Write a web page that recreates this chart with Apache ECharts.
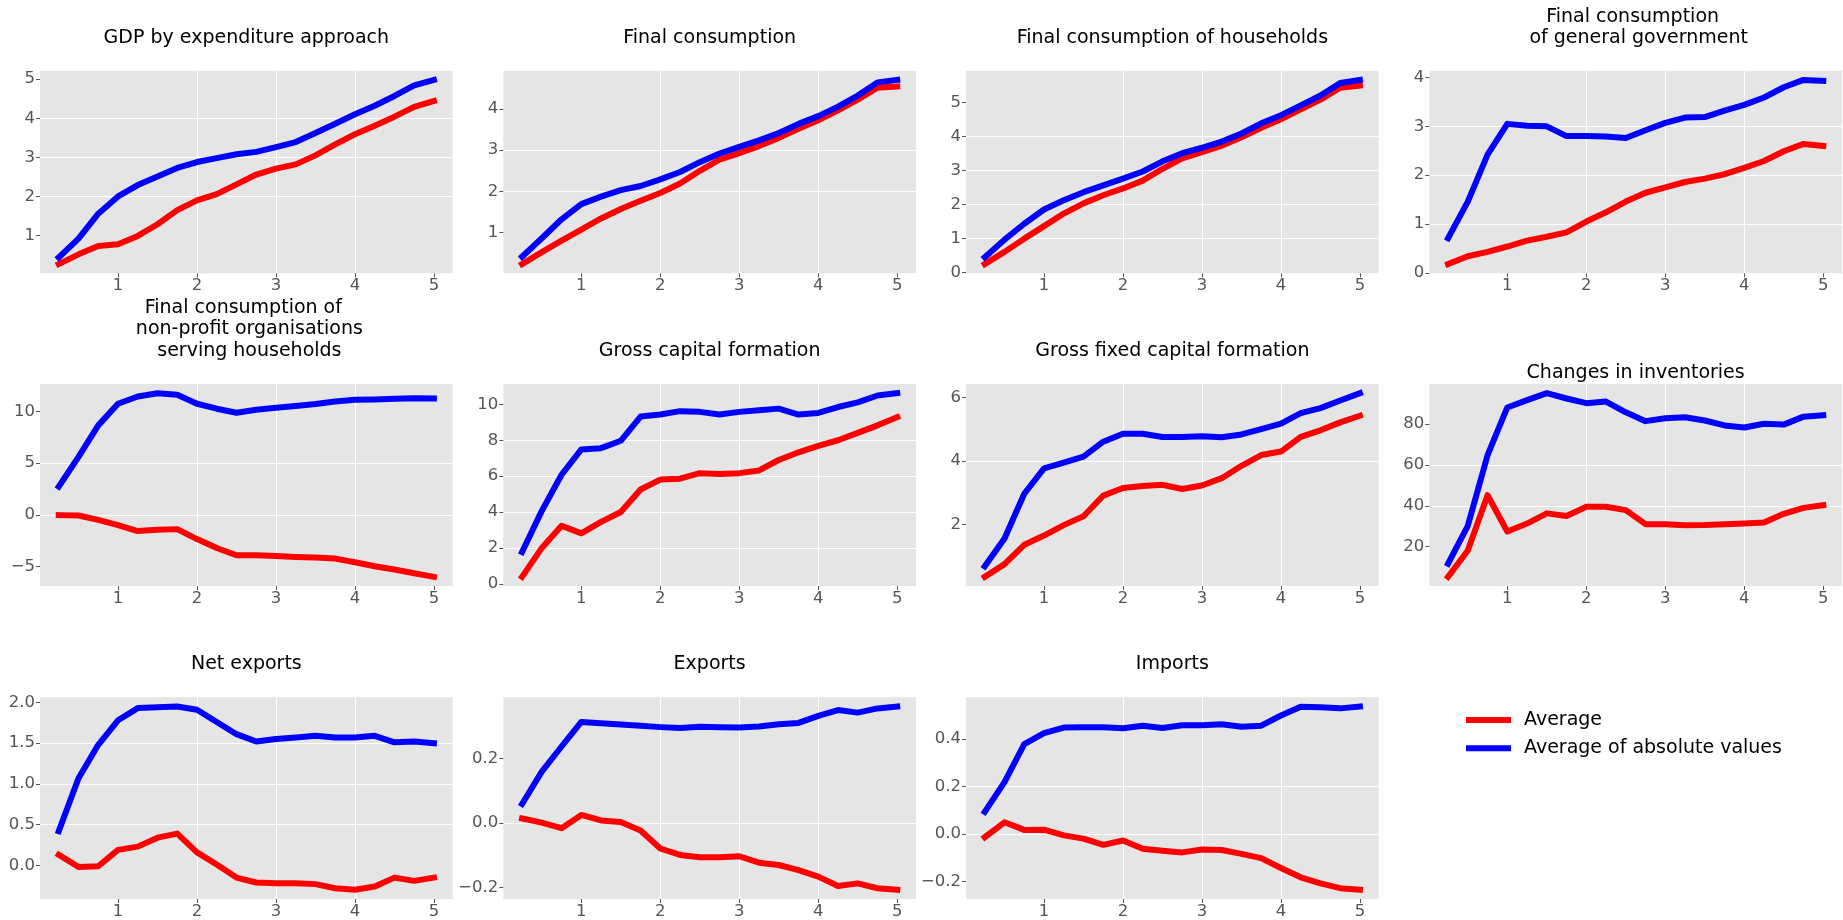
<!DOCTYPE html>
<html>
<head>
<meta charset="utf-8">
<script src="https://cdn.jsdelivr.net/npm/echarts@6/dist/echarts.min.js"></script>
<style>
html,body{margin:0;padding:0;background:#fff;}
#chart{width:1843px;height:920px;}
</style>
</head>
<body>
<div id="chart"></div>
<script>
// ---------- data ----------
const xValues = [0.25,0.5,0.75,1,1.25,1.5,1.75,2,2.25,2.5,2.75,3,3.25,3.5,3.75,4,4.25,4.5,4.75,5];
const xTicks = [1,2,3,4,5];
const seriesNames = ['Average', 'Average of absolute values'];

const titles = [
  'GDP by expenditure approach',
  'Final consumption',
  'Final consumption of households',
  'Final consumption \n of general government',
  'Final consumption of \n non-profit organisations\n serving households',
  'Gross capital formation',
  'Gross fixed capital formation',
  'Changes in inventories',
  'Net exports',
  'Exports',
  'Imports'
];

const gdpAvg = [0.27,0.52,0.73,0.78,0.99,1.29,1.65,1.90,2.06,2.31,2.56,2.71,2.82,3.05,3.33,3.59,3.81,4.04,4.29,4.44];
const gdpAbs = [0.44,0.92,1.56,2.00,2.29,2.51,2.73,2.88,2.98,3.08,3.14,3.26,3.39,3.62,3.86,4.10,4.32,4.57,4.84,4.98];

const fcAvg = [0.23,0.52,0.80,1.07,1.34,1.57,1.77,1.96,2.19,2.50,2.77,2.93,3.10,3.30,3.52,3.73,3.97,4.23,4.52,4.55];
const fcAbs = [0.41,0.86,1.32,1.69,1.87,2.03,2.13,2.29,2.47,2.71,2.92,3.08,3.24,3.42,3.64,3.83,4.06,4.33,4.65,4.71];

const hhAvg = [0.24,0.60,0.99,1.36,1.73,2.03,2.27,2.47,2.70,3.05,3.36,3.54,3.73,3.98,4.26,4.51,4.80,5.09,5.44,5.50];
const hhAbs = [0.44,0.96,1.43,1.85,2.12,2.36,2.56,2.76,2.97,3.27,3.51,3.67,3.85,4.09,4.39,4.63,4.92,5.21,5.58,5.67];

const govAvg = [0.18,0.34,0.43,0.54,0.66,0.74,0.83,1.05,1.24,1.46,1.64,1.75,1.86,1.93,2.02,2.15,2.29,2.49,2.64,2.60];
const govAbs = [0.71,1.46,2.42,3.05,3.01,3.00,2.80,2.80,2.79,2.76,2.92,3.07,3.18,3.19,3.32,3.44,3.59,3.80,3.95,3.93];

const npishAvg = [-0.03,-0.06,-0.48,-0.99,-1.57,-1.44,-1.38,-2.34,-3.21,-3.91,-3.91,-3.97,-4.07,-4.13,-4.23,-4.58,-4.97,-5.29,-5.64,-5.99];
const npishAbs = [2.72,5.61,8.65,10.74,11.44,11.76,11.60,10.74,10.26,9.87,10.16,10.35,10.51,10.71,10.96,11.12,11.15,11.22,11.28,11.25];

const gcfAvg = [0.40,2.01,3.24,2.82,3.46,4.01,5.26,5.81,5.86,6.17,6.12,6.17,6.32,6.90,7.33,7.69,8.00,8.41,8.83,9.29];
const gcfAbs = [1.78,4.07,6.08,7.49,7.56,7.97,9.32,9.43,9.62,9.58,9.43,9.58,9.67,9.76,9.43,9.52,9.85,10.11,10.49,10.62];

const gfcfAvg = [0.35,0.75,1.36,1.65,1.98,2.26,2.91,3.15,3.21,3.25,3.12,3.23,3.46,3.85,4.19,4.30,4.76,4.97,5.22,5.43];
const gfcfAbs = [0.68,1.56,2.97,3.77,3.95,4.14,4.61,4.86,4.86,4.76,4.76,4.78,4.75,4.84,5.01,5.18,5.51,5.67,5.91,6.14];

const invAvg = [5.2,18.1,45.2,27.4,31.3,36.3,35.0,39.5,39.5,37.9,31.0,31.0,30.5,30.6,31.0,31.3,31.8,36.1,39.0,40.3];
const invAbs = [11.6,30.2,64.8,88.2,91.8,95.2,92.6,90.3,91.1,85.8,81.5,82.9,83.4,81.8,79.4,78.4,80.2,79.8,83.7,84.4];

const netAvg = [0.13,-0.02,-0.01,0.19,0.23,0.34,0.39,0.16,0.01,-0.15,-0.21,-0.22,-0.22,-0.23,-0.28,-0.30,-0.26,-0.15,-0.19,-0.15];
const netAbs = [0.42,1.07,1.48,1.78,1.93,1.94,1.95,1.91,1.76,1.61,1.52,1.55,1.57,1.59,1.57,1.57,1.59,1.51,1.52,1.50];

const expAvg = [0.014,0.001,-0.016,0.025,0.008,0.003,-0.023,-0.079,-0.099,-0.106,-0.106,-0.103,-0.123,-0.130,-0.146,-0.166,-0.195,-0.187,-0.202,-0.207];
const expAbs = [0.059,0.159,0.237,0.313,0.309,0.305,0.301,0.297,0.294,0.298,0.297,0.296,0.299,0.306,0.310,0.332,0.350,0.342,0.355,0.361];

const impAvg = [-0.014,0.049,0.017,0.018,-0.006,-0.020,-0.046,-0.028,-0.063,-0.071,-0.078,-0.066,-0.068,-0.084,-0.102,-0.144,-0.183,-0.209,-0.229,-0.236];
const impAbs = [0.093,0.219,0.379,0.425,0.449,0.450,0.450,0.446,0.457,0.447,0.459,0.459,0.463,0.452,0.457,0.500,0.537,0.535,0.530,0.538];

const gdpYTicks = [1,2,3,4,5];
const fcYTicks = [1,2,3,4];
const hhYTicks = [0,1,2,3,4,5];
const govYTicks = [0,1,2,3,4];
const npishYTicks = [-5,0,5,10];
const gcfYTicks = [0,2,4,6,8,10];
const gfcfYTicks = [2,4,6];
const invYTicks = [20,40,60,80];
const netYTicks = [0,0.5,1,1.5,2];
const expYTicks = [-0.2,0,0.2];
const impYTicks = [-0.2,0,0.2,0.4];
const yDecimals = [0,0,0,0,0,0,0,0,1,1,1];

const avgSeries = [gdpAvg, fcAvg, hhAvg, govAvg, npishAvg, gcfAvg, gfcfAvg, invAvg, netAvg, expAvg, impAvg];
const absSeries = [gdpAbs, fcAbs, hhAbs, govAbs, npishAbs, gcfAbs, gfcfAbs, invAbs, netAbs, expAbs, impAbs];
const yTickSets = [gdpYTicks, fcYTicks, hhYTicks, govYTicks, npishYTicks, gcfYTicks, gfcfYTicks, invYTicks, netYTicks, expYTicks, impYTicks];

// ---------- layout ----------
const colLeft = [40, 503.3, 966, 1429.3];
const plotW = 412.7;
const rowTop = [70.7, 384, 697.3];
const plotH = [202.6, 202, 201.7];
const titleBaseline = [45,45,45,45,357.5,357.5,357.5,379.3,671,671,671];

const FONT = 'DejaVu Sans';
const TICK_FS = 16.5;
const TITLE_FS = 19;
const TITLE_LH = 21.5;

function fmtNum(v, d) {
  let s = Math.abs(v) < 1e-9 ? (0).toFixed(d) : v.toFixed(d);
  return s.replace('-', '\u2212');
}
function isOnStep(v, ticks) {
  return ticks.some(t => Math.abs(t - v) < 1e-7);
}

const grids = [], xAxes = [], yAxes = [], series = [], titleOpts = [];

for (let i = 0; i < 11; i++) {
  const r = Math.floor(i / 4), c = i % 4;
  const left = colLeft[c], top = rowTop[r], h = plotH[r];
  grids.push({
    left: left, top: top, width: plotW, height: h,
    show: true, backgroundColor: '#E5E5E5', borderWidth: 0, containLabel: false
  });

  const xmin = xValues[0], xmax = xValues[xValues.length - 1];
  const xpad = (xmax - xmin) * 0.05;
  xAxes.push({
    type: 'value', gridIndex: i,
    min: xmin - xpad, max: xmax + xpad,
    minInterval: 1, maxInterval: 1,
    axisLine: { show: false, onZero: false },
    axisTick: { show: true, length: 4, lineStyle: { color: '#555555', width: 1 }, customValues: xTicks },
    axisLabel: {
      color: '#555555', fontSize: TICK_FS, fontFamily: FONT, margin: 4,
      customValues: xTicks,
      formatter: v => isOnStep(v, xTicks) ? String(Math.round(v)) : ''
    },
    splitLine: { show: true, showMinLine: false, showMaxLine: false, lineStyle: { color: '#FFFFFF', width: 1 } }
  });

  const all = avgSeries[i].concat(absSeries[i]);
  const lo = Math.min.apply(null, all), hi = Math.max.apply(null, all);
  const ypad = (hi - lo) * 0.05;
  const ticks = yTickSets[i];
  const step = ticks[1] - ticks[0];
  const dec = yDecimals[i];
  yAxes.push({
    type: 'value', gridIndex: i,
    min: lo - ypad, max: hi + ypad,
    minInterval: step, maxInterval: step,
    axisLine: { show: false, onZero: false },
    axisTick: { show: true, length: 4, lineStyle: { color: '#555555', width: 1 }, customValues: ticks },
    axisLabel: {
      color: '#555555', fontSize: TICK_FS, fontFamily: FONT, margin: 5,
      customValues: ticks,
      formatter: v => isOnStep(v, ticks) ? fmtNum(v, dec) : ''
    },
    splitLine: { show: true, showMinLine: false, showMaxLine: false, lineStyle: { color: '#FFFFFF', width: 1 } }
  });

  series.push({
    name: seriesNames[0], type: 'line', xAxisIndex: i, yAxisIndex: i,
    data: xValues.map((x, j) => [x, avgSeries[i][j]]),
    symbol: 'none', showSymbol: false, silent: true, z: 2,
    lineStyle: { color: '#FF0000', width: 6, cap: 'square', join: 'round' },
    itemStyle: { color: '#FF0000' }
  });
  series.push({
    name: seriesNames[1], type: 'line', xAxisIndex: i, yAxisIndex: i,
    data: xValues.map((x, j) => [x, absSeries[i][j]]),
    symbol: 'none', showSymbol: false, silent: true, z: 3,
    lineStyle: { color: '#0000FF', width: 6, cap: 'square', join: 'round' },
    itemStyle: { color: '#0000FF' }
  });

  const nLines = titles[i].split('\n').length;
  titleOpts.push({
    text: titles[i],
    left: left + plotW / 2,
    top: titleBaseline[i] + (TITLE_LH / 2 - 0.346 * TITLE_FS),
    textAlign: 'center',
    textVerticalAlign: 'bottom',
    padding: 0,
    textStyle: { fontFamily: FONT, fontSize: TITLE_FS, fontWeight: 'normal', color: '#000000', lineHeight: TITLE_LH }
  });
}

const chart = echarts.init(document.getElementById('chart'), null, { renderer: 'canvas' });
chart.setOption({
  animation: false,
  backgroundColor: '#FFFFFF',
  title: titleOpts,
  grid: grids,
  xAxis: xAxes,
  yAxis: yAxes,
  series: series,
  legend: {
    data: seriesNames,
    orient: 'vertical',
    left: 1466, top: 710,
    padding: 0,
    itemWidth: 45, itemHeight: 6, itemGap: 8.3,
    icon: 'rect',
    selectedMode: false,
    textStyle: { fontFamily: FONT, fontSize: 19, color: '#000000', lineHeight: 20, padding: [0, 0, 0, 8] }
  }
});
</script>
</body>
</html>
